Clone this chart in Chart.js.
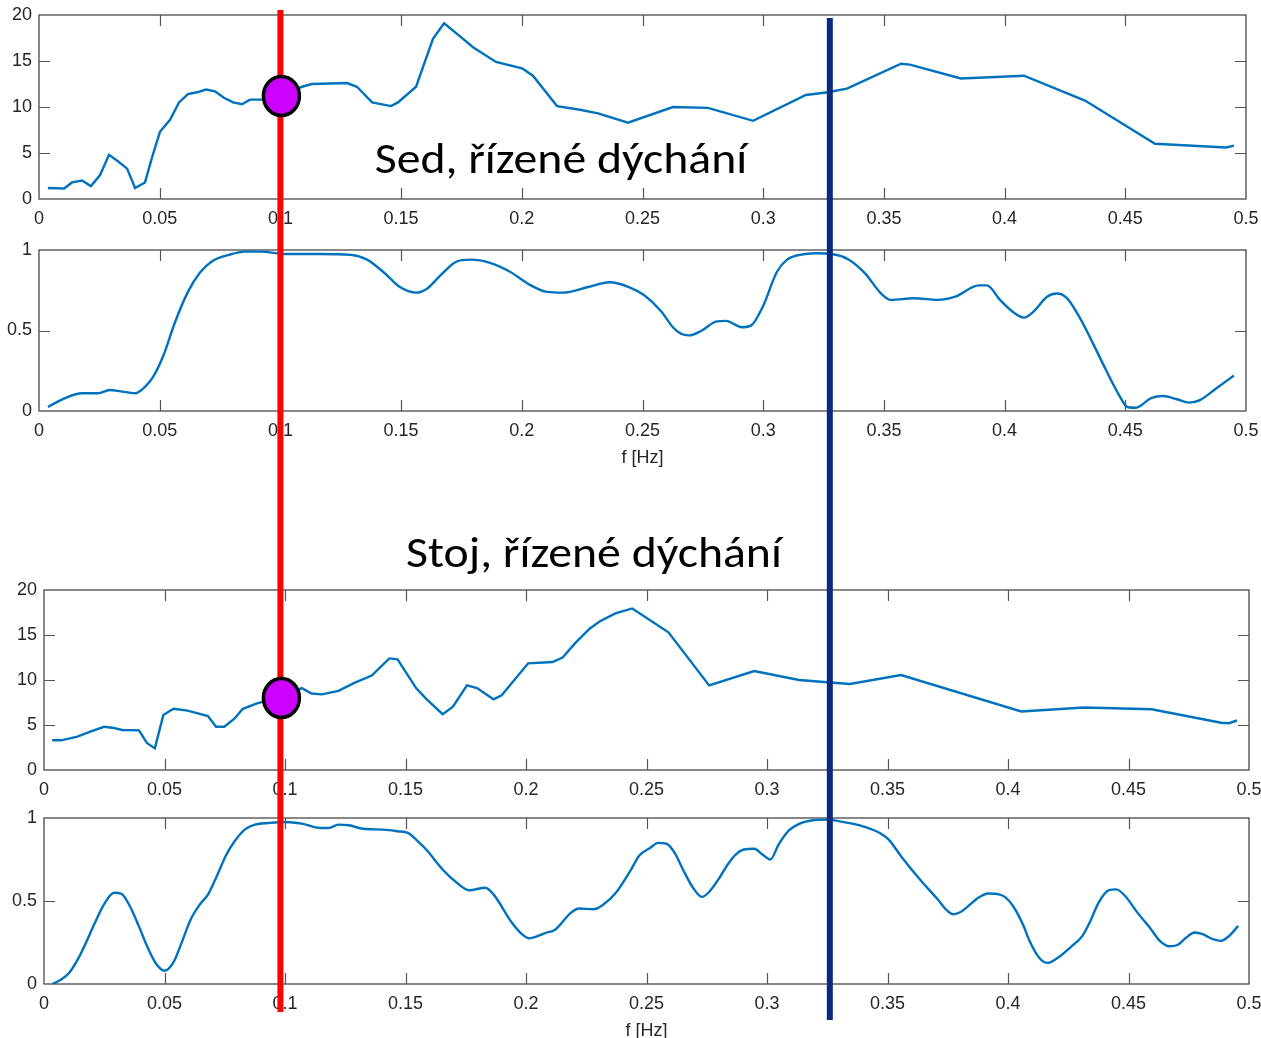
<!DOCTYPE html>
<html>
<head>
<meta charset="utf-8">
<style>
html,body{margin:0;padding:0;background:#fff;width:1261px;height:1038px;overflow:hidden;position:relative;}
canvas{position:absolute;left:0;}
.cap{position:absolute;font-family:Carlito,Calibri,Lato,"Open Sans",sans-serif;font-size:44px;line-height:44px;color:#000;white-space:nowrap;transform:translateX(-50%) scaleX(1.085);z-index:3;}
</style>
<script src="https://cdn.jsdelivr.net/npm/chart.js@4.4.1/dist/chart.umd.min.js"></script>
</head>
<body>
<canvas id="p1" width="1261" height="236" style="top:0px"></canvas>
<canvas id="p2" width="1261" height="240" style="top:236px"></canvas>
<canvas id="p3" width="1261" height="227" style="top:575px"></canvas>
<canvas id="p4" width="1261" height="250" style="top:800px"></canvas>
<div class="cap" id="t1" style="left:561px;top:136px"></div>
<div class="cap" id="t2" style="left:594px;top:530px"></div>
<canvas id="ov" width="1261" height="1038" style="top:0px;z-index:5;pointer-events:none"></canvas>
<script>
// ---------- data ----------
const xTickValues = [0,0.05,0.1,0.15,0.2,0.25,0.3,0.35,0.4,0.45,0.5];
const xTickLabels = ['0','0.05','0.1','0.15','0.2','0.25','0.3','0.35','0.4','0.45','0.5'];
const powerTicks = [0,5,10,15,20];
const powerTickLabels = ['0','5','10','15','20'];
const cohTicks = [0,0.5,1];
const cohTickLabels = ['0','0.5','1'];
const xTitle = 'f [Hz]';
const sedTitle = 'Sed, řízené dýchání';
const stojTitle = 'Stoj, řízené dýchání';

const sedPowerFreq = [0.0037,0.0104,0.0137,0.0178,0.0215,0.0253,0.0290,0.0327,0.0365,0.0398,0.0439,0.0468,0.0501,0.0543,0.0580,0.0617,0.0655,0.0692,0.0729,0.0766,0.0804,0.0841,0.0874,0.0924,0.1000,0.1050,0.1090,0.1130,0.1276,0.1317,0.1380,0.1458,0.1487,0.1562,0.1632,0.1678,0.1748,0.1798,0.1893,0.2001,0.2046,0.2146,0.2241,0.2316,0.2440,0.2626,0.2771,0.2958,0.3177,0.3268,0.3347,0.3571,0.3608,0.3819,0.4080,0.4333,0.4623,0.4917,0.4950];
const sedPower = [1.2,1.15,1.8,2.0,1.4,2.6,4.8,4.1,3.3,1.2,1.8,4.5,7.3,8.6,10.5,11.4,11.6,11.9,11.7,11.0,10.5,10.3,10.8,10.8,11.2,11.8,12.2,12.5,12.6,12.2,10.5,10.1,10.5,12.2,17.4,19.1,17.6,16.5,14.9,14.2,13.4,10.1,9.7,9.3,8.3,10.0,9.9,8.5,11.3,11.6,12.0,14.7,14.6,13.1,13.4,10.7,6.0,5.6,5.8];

const sedCohFreq = [0.0037,0.0108,0.0178,0.0244,0.0294,0.0327,0.0398,0.0439,0.0472,0.0514,0.0563,0.0617,0.0667,0.0717,0.0787,0.0853,0.0920,0.1023,0.1156,0.1292,0.1359,0.1429,0.1495,0.1562,0.1607,0.1665,0.1732,0.1790,0.1868,0.1951,0.2038,0.2104,0.2171,0.2274,0.2365,0.2444,0.2506,0.2577,0.2626,0.2659,0.2693,0.2746,0.2804,0.2846,0.2912,0.2949,0.2999,0.3057,0.3099,0.3152,0.3219,0.3285,0.3355,0.3422,0.3488,0.3529,0.3625,0.3724,0.3795,0.3894,0.3927,0.3981,0.4039,0.4080,0.4122,0.4176,0.4217,0.4259,0.4317,0.4366,0.4420,0.4470,0.4511,0.4544,0.4607,0.4656,0.4714,0.4764,0.4809,0.4876,0.4950];
const sedCoh = [0.025,0.08,0.11,0.11,0.13,0.125,0.11,0.15,0.21,0.34,0.55,0.74,0.86,0.93,0.97,0.99,0.99,0.975,0.975,0.97,0.94,0.86,0.77,0.735,0.76,0.845,0.93,0.94,0.92,0.865,0.78,0.74,0.735,0.77,0.80,0.77,0.72,0.62,0.52,0.48,0.47,0.50,0.555,0.56,0.52,0.53,0.65,0.865,0.94,0.97,0.98,0.975,0.94,0.855,0.73,0.69,0.70,0.69,0.71,0.78,0.78,0.69,0.61,0.58,0.62,0.71,0.73,0.70,0.565,0.42,0.255,0.11,0.023,0.02,0.08,0.093,0.073,0.052,0.068,0.14,0.22];

const stojPowerFreq = [0.0034,0.0071,0.0139,0.0181,0.0249,0.0283,0.0325,0.0394,0.0427,0.0460,0.0495,0.0537,0.0596,0.0680,0.0714,0.0748,0.0790,0.0825,0.0884,0.0978,0.1070,0.1110,0.1153,0.1222,0.1290,0.1360,0.1433,0.1467,0.1544,0.1586,0.1654,0.1696,0.1755,0.1797,0.1865,0.1899,0.2009,0.2110,0.2152,0.2204,0.2264,0.2305,0.2371,0.2441,0.2591,0.2760,0.2947,0.3133,0.3250,0.3344,0.3556,0.4055,0.4316,0.4596,0.4884,0.4917,0.4950];
const stojPower = [3.3,3.3,3.7,4.15,4.8,4.7,4.45,4.4,3.0,2.4,6.1,6.8,6.6,6.0,4.8,4.8,5.7,6.8,7.4,8.1,9.1,8.5,8.4,8.8,9.7,10.5,12.4,12.3,9.1,7.9,6.2,7.0,9.4,9.1,7.85,8.3,11.85,12.0,12.5,14.1,15.7,16.5,17.4,17.95,15.3,9.4,11.0,10.0,9.75,9.55,10.55,6.5,6.95,6.75,5.25,5.2,5.5];

const stojCohFreq = [0.0034,0.0068,0.0105,0.0139,0.0173,0.0207,0.0249,0.0291,0.0320,0.0356,0.0393,0.0427,0.0466,0.0500,0.0537,0.0570,0.0609,0.0647,0.0681,0.0714,0.0757,0.0791,0.0833,0.0875,0.0934,0.1002,0.1070,0.1146,0.1180,0.1222,0.1265,0.1324,0.1408,0.1468,0.1510,0.1544,0.1586,0.1654,0.1713,0.1764,0.1831,0.1865,0.1941,0.1983,0.2014,0.2051,0.2085,0.2119,0.2187,0.2220,0.2280,0.2322,0.2373,0.2432,0.2471,0.2515,0.2549,0.2583,0.2617,0.2651,0.2693,0.2730,0.2760,0.2803,0.2837,0.2870,0.2904,0.2947,0.2981,0.3014,0.3048,0.3091,0.3133,0.3184,0.3252,0.3320,0.3387,0.3454,0.3505,0.3556,0.3640,0.3708,0.3742,0.3772,0.3810,0.3877,0.3919,0.3962,0.3987,0.4021,0.4063,0.4089,0.4131,0.4165,0.4199,0.4266,0.4309,0.4342,0.4376,0.4419,0.4449,0.4486,0.4537,0.4588,0.4630,0.4669,0.4703,0.4740,0.4774,0.4808,0.4850,0.4884,0.4918,0.4955];
const stojCoh = [0.0,0.024,0.068,0.145,0.245,0.355,0.48,0.55,0.545,0.47,0.35,0.23,0.12,0.08,0.13,0.245,0.39,0.48,0.54,0.64,0.78,0.86,0.93,0.96,0.97,0.976,0.966,0.94,0.94,0.96,0.956,0.935,0.93,0.92,0.91,0.87,0.81,0.69,0.61,0.565,0.58,0.54,0.37,0.30,0.275,0.29,0.31,0.325,0.43,0.455,0.45,0.48,0.55,0.68,0.775,0.82,0.85,0.845,0.79,0.69,0.58,0.525,0.555,0.64,0.72,0.78,0.81,0.815,0.78,0.75,0.84,0.925,0.965,0.985,0.99,0.975,0.955,0.92,0.87,0.77,0.62,0.51,0.45,0.42,0.44,0.52,0.545,0.54,0.525,0.47,0.355,0.26,0.155,0.127,0.15,0.23,0.29,0.38,0.49,0.565,0.57,0.53,0.43,0.34,0.26,0.227,0.235,0.28,0.31,0.30,0.27,0.26,0.29,0.35];

// vertical marker lines (frequency) and circle markers (value on spectrum)
const redLineFreq = 0.1;
const blueLineFreq = 0.3276;
const sedMarkerValue = 11.2;
const stojMarkerValue = 8.0;

document.getElementById('t1').textContent = sedTitle;
document.getElementById('t2').textContent = stojTitle;

// ---------- styles ----------
const curveColor = '#0072BD';
const axisColor = '#262626';
const tickFont = {family: '"Liberation Sans", Arial, Helvetica, sans-serif', size: 18};

const matlabBox = {
  id: 'matlabBox',
  beforeDatasetsDraw(chart) {
    const {ctx, chartArea: a, scales: {x, y}} = chart;
    ctx.save();
    ctx.strokeStyle = '#3a3a3a';
    ctx.lineWidth = 1.2;
    ctx.strokeRect(a.left, a.top, a.right - a.left, a.bottom - a.top);
    ctx.strokeStyle = '#555';
    ctx.lineWidth = 1.2;
    const L = 11;
    ctx.beginPath();
    x.ticks.forEach(t => {
      const px = Math.round(x.getPixelForValue(t.value)) + 0.5;
      if (px <= a.left + 1 || px >= a.right - 1) return;
      ctx.moveTo(px, a.bottom); ctx.lineTo(px, a.bottom - L);
      ctx.moveTo(px, a.top); ctx.lineTo(px, a.top + L);
    });
    y.ticks.forEach(t => {
      const py = Math.round(y.getPixelForValue(t.value)) + 0.5;
      if (py <= a.top + 1 || py >= a.bottom - 1) return;
      ctx.moveTo(a.left, py); ctx.lineTo(a.left + L, py);
      ctx.moveTo(a.right, py); ctx.lineTo(a.right - L, py);
    });
    ctx.stroke();
    ctx.restore();
  }
};

function panel(id, freq, vals, cfg) {
  return new Chart(document.getElementById(id), {
    type: 'line',
    data: {datasets: [{
      data: freq.map((f, i) => ({x: f, y: vals[i]})),
      borderColor: curveColor, borderWidth: 2.4, pointRadius: 0, fill: false,
      tension: cfg.smooth ? 0.35 : 0,
      cubicInterpolationMode: cfg.smooth ? 'monotone' : 'default'
    }]},
    options: {
      responsive: false, animation: false, events: [],
      layout: {autoPadding: false, padding: {left: 0, right: cfg.padRight, top: cfg.padTop, bottom: 0}},
      plugins: {legend: {display: false}, tooltip: {enabled: false}},
      scales: {
        x: {
          type: 'linear', min: 0, max: 0.5,
          grid: {display: false, drawTicks: false}, border: {display: false},
          afterBuildTicks: s => { s.ticks = xTickValues.map(v => ({value: v})); },
          ticks: {padding: 9, font: tickFont, color: axisColor, maxRotation: 0, autoSkip: false,
                  callback: (v, i) => xTickLabels[i]},
          afterFit: s => { s.height = cfg.xAxisHeight; s.paddingLeft = 0; s.paddingRight = 0; },
          title: cfg.showTitle ? {display: true, text: xTitle, font: tickFont, color: axisColor,
                  padding: {top: 0, bottom: cfg.titlePad}} : {display: false}
        },
        y: {
          type: 'linear', min: 0, max: cfg.yTicks[cfg.yTicks.length - 1],
          grid: {display: false, drawTicks: false}, border: {display: false},
          afterBuildTicks: s => { s.ticks = cfg.yTicks.map(v => ({value: v})); },
          ticks: {padding: 7, font: tickFont, color: axisColor, autoSkip: false,
                  callback: (v, i) => cfg.yLabels[i]},
          afterFit: s => { s.width = cfg.yAxisWidth; s.paddingTop = 0; s.paddingBottom = 0; }
        }
      }
    },
    plugins: [matlabBox]
  });
}

const c1 = panel('p1', sedPowerFreq, sedPower, {padTop: 15, padRight: 15, xAxisHeight: 37, yAxisWidth: 39, yTicks: powerTicks, yLabels: powerTickLabels, smooth: false});
const c2 = panel('p2', sedCohFreq, sedCoh, {padTop: 14, padRight: 15, xAxisHeight: 65, yAxisWidth: 39, yTicks: cohTicks, yLabels: cohTickLabels, smooth: true, showTitle: true, titlePad: 7});
const c3 = panel('p3', stojPowerFreq, stojPower, {padTop: 15, padRight: 12, xAxisHeight: 32, yAxisWidth: 44, yTicks: powerTicks, yLabels: powerTickLabels, smooth: false});
const c4 = panel('p4', stojCohFreq, stojCoh, {padTop: 18, padRight: 12, xAxisHeight: 66, yAxisWidth: 44, yTicks: cohTicks, yLabels: cohTickLabels, smooth: true, showTitle: true, titlePad: 8});

const markers = [
  {chart: c1, top: 0, value: sedMarkerValue},
  {chart: c3, top: 575, value: stojMarkerValue}
];

const markerPlugin = {
  id: 'markerPlugin',
  afterDatasetsDraw(chart) {
    const ctx = chart.ctx;
    const x = chart.scales.x.getPixelForValue(redLineFreq);
    markers.forEach(m => {
      const y = m.chart.scales.y.getPixelForValue(m.value) + m.top;
      ctx.save();
      ctx.beginPath();
      ctx.ellipse(x + 1, y, 18, 19.5, 0, 0, Math.PI * 2);
      ctx.fillStyle = '#cc00ff';
      ctx.fill();
      ctx.lineWidth = 3.5;
      ctx.strokeStyle = '#000';
      ctx.stroke();
      ctx.restore();
    });
  }
};

new Chart(document.getElementById('ov'), {
  type: 'scatter',
  data: {datasets: [
    {data: [{x: redLineFreq, y: 0.9904}, {x: redLineFreq, y: 0.025}], showLine: true,
     borderColor: '#ff0000', borderWidth: 6, pointRadius: 0},
    {data: [{x: blueLineFreq, y: 0.9827}, {x: blueLineFreq, y: 0.0173}], showLine: true,
     borderColor: '#0a2a80', borderWidth: 6, pointRadius: 0}
  ]},
  options: {
    responsive: false, animation: false, events: [],
    layout: {autoPadding: false, padding: {left: 39, right: 15, top: 0, bottom: 0}},
    plugins: {legend: {display: false}, tooltip: {enabled: false}},
    scales: {
      x: {type: 'linear', min: 0, max: 0.5, display: false},
      y: {type: 'linear', min: 0, max: 1, display: false}
    }
  },
  plugins: [markerPlugin]
});
</script>
</body>
</html>
